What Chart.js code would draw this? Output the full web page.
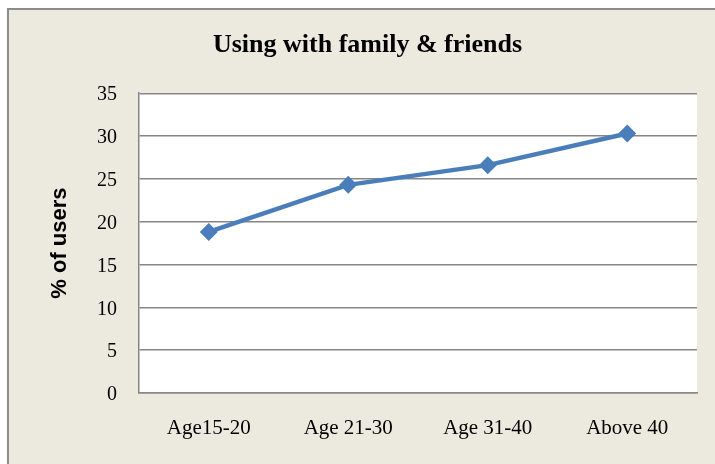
<!DOCTYPE html>
<html>
<head>
<meta charset="utf-8">
<script src="https://cdn.jsdelivr.net/npm/chart.js@4/dist/chart.umd.min.js"></script>
<style>
  html, body { margin: 0; padding: 0; background: #fff; }
  #frame {
    position: absolute; left: 7px; top: 8px; width: 720px; height: 470px;
    background: #ECE9DF; border: 2px solid #8c8c8c;
  }
  #wrap { position: absolute; left: 0; top: 0; width: 715px; height: 464px; }
</style>
</head>
<body>
<div id="frame"></div>
<div id="wrap"><canvas id="chart" width="715" height="464"></canvas></div>
<script>
// data
const ageGroups = ['Age15-20', 'Age 21-30', 'Age 31-40', 'Above 40'];
const familyFriends = [18.8, 24.3, 26.6, 30.3];
const yTicks = [0, 5, 10, 15, 20, 25, 30, 35];

const serif = "'Liberation Serif', 'Times New Roman', serif";

// white plot area
const plotBg = {
  id: 'plotBg',
  beforeDraw(chart) {
    const { ctx, chartArea: a } = chart;
    ctx.save();
    ctx.fillStyle = '#ffffff';
    ctx.fillRect(a.left, a.top, a.right - a.left, a.bottom - a.top);
    ctx.restore();
  }
};

new Chart(document.getElementById('chart'), {
  type: 'line',
  data: {
    labels: ageGroups,
    datasets: [{
      label: 'Using with family & friends',
      data: familyFriends,
      borderColor: '#4A7EBB',
      backgroundColor: '#4A7EBB',
      borderWidth: 4.5,
      pointStyle: 'rectRot',
      pointRadius: 9,
      pointBorderWidth: 0,
      tension: 0
    }]
  },
  options: {
    responsive: false,
    animation: false,
    layout: { padding: { left: 38, right: 18, top: 0, bottom: 0 } },
    plugins: {
      legend: { display: false },
      tooltip: { enabled: false },
      title: {
        display: true,
        text: 'Using with family & friends',
        color: '#000',
        font: { family: serif, size: 26, weight: 'bold' },
        padding: { top: 30, bottom: 32 }
      }
    },
    scales: {
      x: {
        offset: true,
        grid: { display: false, drawTicks: false },
        border: { display: true, color: '#888', width: 1.5 },
        ticks: { color: '#000', font: { family: serif, size: 21 }, padding: 23, maxRotation: 0 },
        afterFit(scale) { scale.height = 71; }
      },
      y: {
        min: 0,
        max: 35,
        afterBuildTicks(scale) { scale.ticks = yTicks.map(v => ({ value: v })); },
        grid: { color: '#868686', lineWidth: 1.4, drawTicks: false },
        border: { display: true, color: '#868686', width: 1.5 },
        ticks: { color: '#000', font: { family: serif, size: 20 }, padding: 22, labelOffset: 2 },
        title: {
          display: true,
          text: '% of users',
          color: '#000',
          font: { family: "'Liberation Sans', Arial, sans-serif", size: 22, weight: 'bold' },
          padding: { top: 9, bottom: 0 }
        },
        afterFit(scale) { scale.width = 101; }
      }
    }
  },
  plugins: [plotBg]
});
</script>
</body>
</html>
